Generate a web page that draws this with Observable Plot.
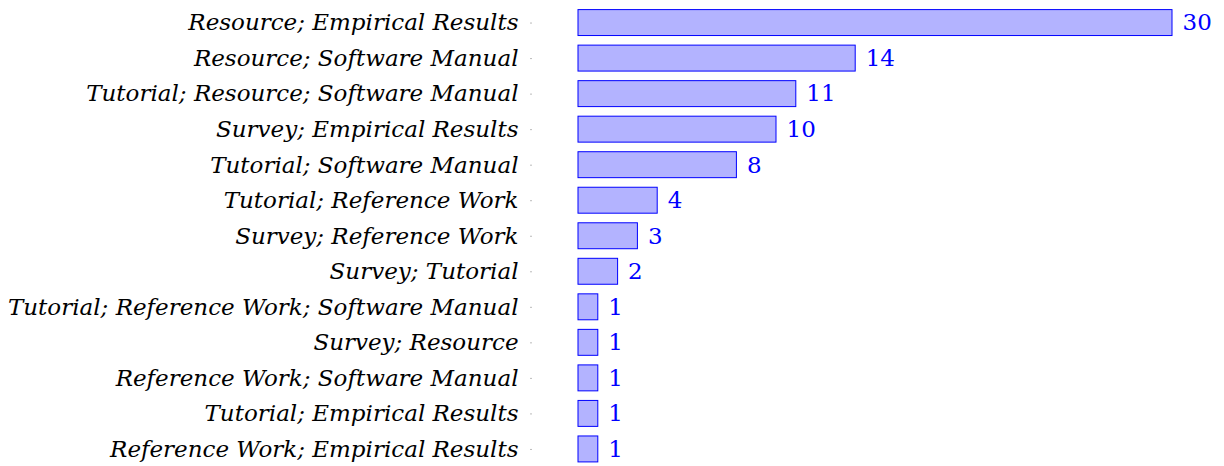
<!DOCTYPE html>
<html>
<head>
<meta charset="utf-8">
<script src="https://cdn.jsdelivr.net/npm/d3@7"></script>
<script src="https://cdn.jsdelivr.net/npm/@observablehq/plot@0.6"></script>
<style>
  html, body { margin: 0; padding: 0; background: #fff; overflow: hidden; }
</style>
</head>
<body>
<div id="chart"></div>
<script>
const categories = [
  "Resource; Empirical Results",
  "Resource; Software Manual",
  "Tutorial; Resource; Software Manual",
  "Survey; Empirical Results",
  "Tutorial; Software Manual",
  "Tutorial; Reference Work",
  "Survey; Reference Work",
  "Survey; Tutorial",
  "Tutorial; Reference Work; Software Manual",
  "Survey; Resource",
  "Reference Work; Software Manual",
  "Tutorial; Empirical Results",
  "Reference Work; Empirical Results"
];
const counts = [30, 14, 11, 10, 8, 4, 3, 2, 1, 1, 1, 1, 1];

const data = categories.map((c, i) => ({category: c, count: counts[i]}));

const chart = Plot.plot({
  width: 1224,
  height: 466,
  marginLeft: 532,
  marginRight: 52,
  marginTop: 0,
  marginBottom: 0,
  style: {background: "#fff"},
  x: {domain: [0, 30], insetLeft: 46, axis: null},
  y: {domain: categories, range: [0, 471.5], padding: 0.27, round: false, label: null},
  marks: [
    Plot.axisY({
      tickSize: 2,
      tickPadding: 12,
      stroke: "#bbb",
      fill: "#000",
      fontSize: 23,
      fontStyle: "italic",
      fontFamily: "DejaVu Serif",
      label: null
    }),
    Plot.barX(data, {
      y: "category",
      x: "count",
      fill: "#b3b3ff",
      stroke: "#0000ff",
      strokeWidth: 1
    }),
    Plot.text(data, {
      y: "category",
      x: "count",
      text: d => String(d.count),
      dx: 10,
      textAnchor: "start",
      fill: "#0000ff",
      fontSize: 23,
      fontFamily: "DejaVu Serif"
    })
  ]
});
document.getElementById("chart").appendChild(chart);
</script>
</body>
</html>
